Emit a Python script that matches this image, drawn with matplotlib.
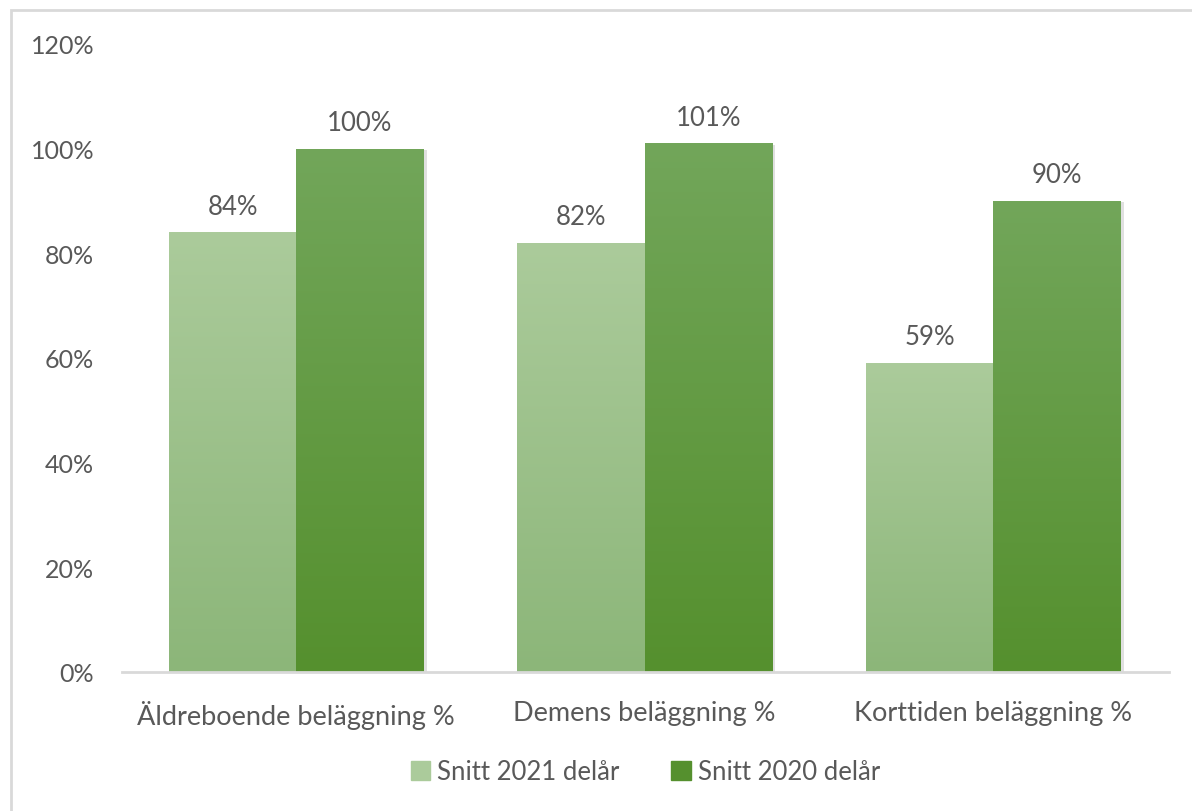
import numpy as np
import matplotlib.pyplot as plt
import matplotlib.patheffects as pe
from matplotlib.patches import Rectangle
from matplotlib.colors import LinearSegmentedColormap

categories = ["Äldreboende beläggning %", "Demens beläggning %", "Korttiden beläggning %"]
series_names = ["Snitt 2021 delår", "Snitt 2020 delår"]
snitt_2021 = [0.84, 0.82, 0.59]
snitt_2020 = [1.00, 1.01, 0.90]
yticks = [0, 0.2, 0.4, 0.6, 0.8, 1.0, 1.2]

text_col = "#595959"
# gradient (top, bottom) per series
grad_light = ("#abcb9b", "#8cb679")
grad_dark = ("#72a65a", "#55902e")

plt.rcParams['font.family'] = ['Lato', 'DejaVu Sans']

fig = plt.figure(figsize=(11.92, 8.12), dpi=100)
ax = fig.add_axes([122 / 1192, (812 - 673) / 812, 1047 / 1192, 628 / 812])

# chart border
fig.patches.append(Rectangle((11 / 1192, -0.05), 1.2, (812 - 11) / 812 + 0.05,
                             transform=fig.transFigure, fill=False,
                             edgecolor="#d9d9d9", linewidth=2))

x = np.arange(len(categories))
w = 0.365

def grad_bars(xpos, vals, cols, label):
    cmap = LinearSegmentedColormap.from_list("g", [cols[1], cols[0]])
    bars = ax.bar(xpos, vals, width=w, color=cols[1], label=label, zorder=2,
                  path_effects=[pe.SimplePatchShadow(offset=(2.5, -1), shadow_rgbFace="#000000", alpha=0.12),
                                pe.Normal()])
    grad = np.linspace(0, 1, 256).reshape(-1, 1)
    for b in bars:
        x0, h = b.get_x(), b.get_height()
        im = ax.imshow(grad, cmap=cmap, origin="lower", aspect="auto",
                       extent=(x0, x0 + b.get_width(), 0, h), zorder=3,
                       vmin=0, vmax=1)
        im.set_clip_path(b)
    for b, v in zip(bars, vals):
        ax.annotate(f"{v * 100:.0f}%", (b.get_x() + b.get_width() / 2, v),
                    xytext=(0, 10), textcoords="offset points", ha="center", va="bottom",
                    fontsize=18.5, color=text_col)
    return bars

grad_bars(x - w / 2, snitt_2021, grad_light, series_names[0])
grad_bars(x + w / 2, snitt_2020, grad_dark, series_names[1])

ax.set_xlim(-0.5, 2.505)
ax.set_ylim(0, 1.2)
ax.set_yticks(yticks)
ax.set_yticklabels([f"{t * 100:.0f}%" for t in yticks])
ax.set_xticks(x)
ax.set_xticklabels(categories)
ax.tick_params(axis="y", length=0, pad=20, labelsize=18, labelcolor=text_col)
ax.tick_params(axis="x", length=0, pad=20, labelsize=19.5, labelcolor=text_col)
for s in ["top", "right", "left"]:
    ax.spines[s].set_visible(False)
ax.spines["bottom"].set_color("#d9d9d9")
ax.spines["bottom"].set_linewidth(2)
ax.spines["bottom"].set_zorder(4)

handles = [Rectangle((0, 0), 1, 1, color=grad_light[0]), Rectangle((0, 0), 1, 1, color=grad_dark[1])]
ax.legend(handles, series_names, loc="center", bbox_to_anchor=(0.5, (812 - 773 - 139) / 628),
          ncol=2, frameon=False, fontsize=18.5, labelcolor=text_col,
          handlelength=0.75, handleheight=0.75, handletextpad=0.3, columnspacing=2.0)

fig.savefig("out.png", dpi=100)
